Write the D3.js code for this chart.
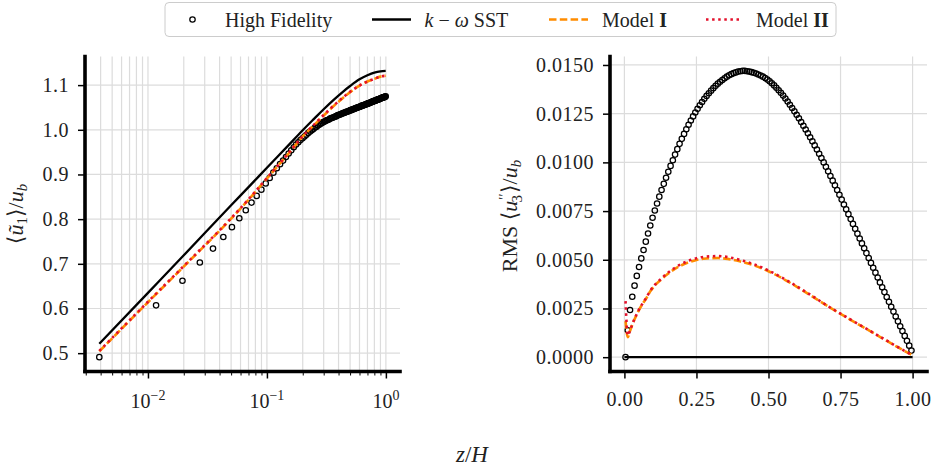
<!DOCTYPE html>
<html><head><meta charset="utf-8">
<script src="https://cdn.jsdelivr.net/npm/d3@7"></script>
<style>
html,body{margin:0;padding:0;background:#fff;}
svg{display:block;font-family:"Liberation Serif","DejaVu Serif",serif;}
svg text{font-family:"Liberation Serif","DejaVu Serif",serif;}
</style></head><body>
<svg id="chart" width="935" height="472"></svg>
<script>
// ---------------- DATA ----------------
// High-fidelity sample heights z/H (cell centres)
const hfZ = [0.0039,0.0117,0.0195,0.0273,0.0352,0.0430,0.0508,0.0586,0.0664,0.0742,0.0820,0.0898,0.0977,0.1055,0.1133,0.1211,0.1289,0.1367,0.1445,0.1523,0.1602,0.1680,0.1758,0.1836,0.1914,0.1992,0.2070,0.2148,0.2227,0.2305,0.2383,0.2461,0.2539,0.2617,0.2695,0.2773,0.2852,0.2930,0.3008,0.3086,0.3164,0.3242,0.3320,0.3398,0.3477,0.3555,0.3633,0.3711,0.3789,0.3867,0.3945,0.4023,0.4102,0.4180,0.4258,0.4336,0.4414,0.4492,0.4570,0.4648,0.4727,0.4805,0.4883,0.4961,0.5039,0.5117,0.5195,0.5273,0.5352,0.5430,0.5508,0.5586,0.5664,0.5742,0.5820,0.5898,0.5977,0.6055,0.6133,0.6211,0.6289,0.6367,0.6445,0.6523,0.6602,0.6680,0.6758,0.6836,0.6914,0.6992,0.7070,0.7148,0.7227,0.7305,0.7383,0.7461,0.7539,0.7617,0.7695,0.7773,0.7852,0.7930,0.8008,0.8086,0.8164,0.8242,0.8320,0.8398,0.8477,0.8555,0.8633,0.8711,0.8789,0.8867,0.8945,0.9023,0.9102,0.9180,0.9258,0.9336,0.9414,0.9492,0.9570,0.9648,0.9727,0.9805,0.9883,0.9961];

// Left panel: mean streamwise velocity <u1>/ub
const hfU1 = [0.491,0.607,0.662,0.703,0.734,0.760,0.782,0.802,0.820,0.837,0.852,0.866,
0.880,0.892,0.904,0.914,0.923,0.931,0.939,0.947,0.954,0.961,0.967,0.972,0.977,
0.981,0.985,0.989,0.993,0.996,0.999,1.002,1.005,1.007,1.010,1.012,1.014,1.016,
1.018,1.019,1.021,1.022,1.023,1.025,1.026,1.027,1.028,1.029,
1.030,1.031,1.033,1.033,1.034,1.035,1.036,1.037,1.038,1.038,
1.039,1.040,1.041,1.041,1.042,1.043,1.044,1.044,1.045,1.046,
1.046,1.047,1.048,1.048,1.049,1.050,1.050,1.051,1.051,1.052,
1.052,1.053,1.054,1.054,1.055,1.055,1.056,1.056,1.057,1.057,
1.058,1.058,1.059,1.059,1.060,1.060,1.061,1.061,1.062,1.062,
1.063,1.063,1.064,1.064,1.065,1.065,1.065,1.066,1.066,1.067,
1.067,1.068,1.068,1.068,1.069,1.069,1.070,1.070,1.071,1.071,
1.071,1.072,1.072,1.072,1.073,1.073,1.073,1.074,1.074,1.075];

const lineZL = [0.0039,0.01,0.02,0.05,0.072,0.1,0.15,0.2,0.25,0.3,0.36,0.43,0.5,0.6,0.7,0.8,0.9,0.9961];
const sstU1  = [0.521,0.635,0.719,0.831,0.875,0.915,0.964,0.999,1.025,1.046,1.066,1.084,1.098,1.113,1.122,1.128,1.131,1.132];
const m1U1   = [0.504,0.614,0.694,0.801,0.847,0.891,0.945,0.985,1.011,1.032,1.052,1.070,1.084,1.099,1.108,1.114,1.119,1.121];
const m2U1   = [0.505,0.615,0.695,0.802,0.848,0.892,0.946,0.986,1.012,1.033,1.053,1.071,1.085,1.099,1.108,1.114,1.119,1.121];

// Right panel: RMS <u3''>/ub
const hfW = [0.00000,0.00138,0.00242,0.00310,0.00367,0.00417,0.00463,0.00507,0.00550,0.00593,
0.00635,0.00676,0.00716,0.00753,0.00789,0.00824,0.00858,0.00890,0.00921,0.00952,
0.00982,0.01011,0.01040,0.01068,0.01095,0.01121,0.01146,0.01170,0.01193,0.01215,
0.01236,0.01256,0.01275,0.01293,0.01310,0.01326,0.01341,0.01355,0.01368,0.01381,
0.01393,0.01404,0.01414,0.01423,0.01432,0.01440,0.01447,0.01453,0.01458,0.01462,
0.01466,0.01468,
0.01470,0.01470,0.01468,0.01466,0.01463,0.01460,0.01456,0.01451,0.01446,0.01440,
0.01433,0.01425,0.01416,0.01406,0.01395,0.01383,0.01370,0.01357,0.01343,0.01328,
0.01312,0.01296,0.01279,0.01262,0.01244,0.01226,0.01207,0.01188,0.01169,0.01149,
0.01129,0.01108,0.01087,0.01066,0.01044,0.01022,0.01000,0.00977,0.00954,0.00930,
0.00906,0.00882,0.00858,0.00834,0.00809,0.00784,0.00759,0.00734,0.00709,0.00684,
0.00659,0.00634,0.00609,0.00584,0.00559,0.00534,0.00509,0.00484,0.00459,0.00434,
0.00409,0.00384,0.00359,0.00334,0.00309,0.00284,0.00259,0.00234,0.00209,0.00184,
0.00159,0.00134,0.00109,0.00084,0.00059,0.00034];

const sstZR = [0.0, 0.25, 0.5, 0.75, 1.0];
const sstW  = [0, 0, 0, 0, 0];
const lineZR = [0.0039,0.0117,0.0195,0.0273,0.0352,0.0430,0.0508,0.0625,0.075,0.0898,0.1055,0.125,0.15,0.175,0.2,0.225,0.25,0.275,0.3,0.325,0.35,0.375,0.4,0.45,0.5,0.55,0.6,0.65,0.7,0.75,0.8,0.85,0.9,0.95,0.9961];
const m1W = [0.00185,0.00103,0.00135,0.00166,0.00195,0.00220,0.00243,0.00272,0.00300,0.00338,0.00368,0.00395,0.00427,0.00453,0.00473,0.00488,0.00499,0.00505,0.00508,0.00509,0.00506,0.00500,0.00492,0.00471,0.00441,0.00403,0.00360,0.00314,0.00267,0.00222,0.00179,0.00136,0.00093,0.00050,0.00012];
const m2W = [0.00288,0.00112,0.00138,0.00168,0.00197,0.00222,0.00245,0.00274,0.00303,0.00341,0.00371,0.00399,0.00432,0.00459,0.00480,0.00496,0.00508,0.00515,0.00518,0.00519,0.00516,0.00509,0.00500,0.00477,0.00445,0.00406,0.00362,0.00316,0.00268,0.00223,0.00180,0.00137,0.00094,0.00051,0.00013];

const yTicksL = [0.5,0.6,0.7,0.8,0.9,1.0,1.1];
const xMajorL = [0.01,0.1,1];
const xMajorLabels = ["\u22122","\u22121","0"];
const yTicksR = [0,0.0025,0.005,0.0075,0.01,0.0125,0.015];
const xTicksR = [0,0.25,0.5,0.75,1.0];

const cOrange = "#ff8c00", cRed = "#e3102b";
const FONT = "Liberation Serif, DejaVu Serif, serif";

// ---------------- LAYOUT ----------------
const svg = d3.select("#chart");
const L = {x:85, y:56.5, w:315, h:315};
const R = {x:610, y:56.5, w:317, h:315};
function pad(ext,f){const r=ext[1]-ext[0];return [ext[0]-f*r, ext[1]+f*r];}

// scales
const lzExt = pad(d3.extent(hfZ.concat(lineZL)).map(Math.log10),0.05);
const xL = d3.scaleLog().domain([10**lzExt[0],10**lzExt[1]]).range([L.x,L.x+L.w]);
const yL = d3.scaleLinear().domain(pad(d3.extent(hfU1.concat(sstU1,m1U1,m2U1)),0.05)).range([L.y+L.h,L.y]);
const xR = d3.scaleLinear().domain(pad(d3.extent(hfZ.concat(sstZR,lineZR)),0.05)).range([R.x,R.x+R.w]);
const yR = d3.scaleLinear().domain(pad(d3.extent(hfW.concat(sstW,m1W,m2W)),0.05)).range([R.y+R.h,R.y]);

const gridC = "#dcdcdc";
// ---- grids ----
const minorL = xL.ticks().filter(d=>d>=xL.domain()[0]&&d<=xL.domain()[1]);
const gL = svg.append("g");
gL.selectAll("line.v").data(minorL).join("line")
  .attr("x1",d=>xL(d)).attr("x2",d=>xL(d)).attr("y1",L.y).attr("y2",L.y+L.h)
  .attr("stroke",gridC).attr("stroke-width",1.2);
gL.selectAll("line.h").data(yTicksL).join("line")
  .attr("x1",L.x).attr("x2",L.x+L.w).attr("y1",d=>yL(d)).attr("y2",d=>yL(d))
  .attr("stroke",gridC).attr("stroke-width",1.2);
const gR = svg.append("g");
gR.selectAll("line.v").data(xTicksR).join("line")
  .attr("x1",d=>xR(d)).attr("x2",d=>xR(d)).attr("y1",R.y).attr("y2",R.y+R.h)
  .attr("stroke",gridC).attr("stroke-width",1.2);
gR.selectAll("line.h").data(yTicksR).join("line")
  .attr("x1",R.x).attr("x2",R.x+R.w).attr("y1",d=>yR(d)).attr("y2",d=>yR(d))
  .attr("stroke",gridC).attr("stroke-width",1.2);

// ---- data marks ----
function drawPanel(x, y, hfY, sstZ, sstY, lz, m1, m2){
  const g = svg.append("g");
  g.selectAll("circle").data(hfZ.map((z,i)=>[z,hfY[i]])).join("circle")
    .attr("cx",d=>x(d[0])).attr("cy",d=>y(d[1])).attr("r",2.7)
    .attr("fill","none").attr("stroke","#000").attr("stroke-width",1.25);
  const line = d3.line().x(d=>x(d[0])).y(d=>y(d[1])).curve(d3.curveMonotoneX);
  g.append("path").attr("d",line(sstZ.map((z,i)=>[z,sstY[i]])))
    .attr("fill","none").attr("stroke","#000").attr("stroke-width",2.3);
  g.append("path").attr("d",line(lz.map((z,i)=>[z,m1[i]])))
    .attr("fill","none").attr("stroke",cOrange).attr("stroke-width",2.6).attr("stroke-dasharray","7.5,3.3");
  g.append("path").attr("d",line(lz.map((z,i)=>[z,m2[i]])))
    .attr("fill","none").attr("stroke",cRed).attr("stroke-width",2.6).attr("stroke-dasharray","2.5,3.6");
}
drawPanel(xL,yL,hfU1,lineZL,sstU1,lineZL,m1U1,m2U1);
drawPanel(xR,yR,hfW,sstZR,sstW,lineZR,m1W,m2W);

// ---- axes ----
const tickFont = 20;
function styleAxis(g){
  g.attr("font-family",FONT);
  g.select(".domain").remove();
  g.selectAll(".tick line").attr("stroke","#000").attr("stroke-width",1.5);
  g.selectAll(".tick text").attr("font-family",FONT).attr("font-size",tickFont)
    .attr("fill","#222").attr("letter-spacing","0.5px");
}
// left y
svg.append("g").attr("transform",`translate(${L.x},0)`)
  .call(d3.axisLeft(yL).tickValues(yTicksL).tickSize(7).tickPadding(9).tickFormat(d3.format(".1f")))
  .call(styleAxis);
// left x major / minor
const minorOnly = minorL.filter(d=>Math.abs(Math.log10(d)-Math.round(Math.log10(d)))>1e-6);
svg.append("g").attr("transform",`translate(0,${L.y+L.h})`)
  .call(d3.axisBottom(xL).tickValues(minorOnly).tickSize(4).tickFormat(""))
  .call(styleAxis).selectAll(".tick line").attr("stroke-width",1);
svg.append("g").attr("transform",`translate(0,${L.y+L.h})`)
  .call(d3.axisBottom(xL).tickValues(xMajorL).tickSize(7).tickFormat(""))
  .call(styleAxis);
const lab = svg.append("g").selectAll("text").data(xMajorL).join("text")
  .attr("x",d=>xL(d)).attr("y",408).attr("text-anchor","middle")
  .attr("font-family",FONT).attr("font-size",tickFont).attr("fill","#222");
lab.append("tspan").text("10");
lab.append("tspan").attr("dy",-8).attr("font-size",14).text((d,i)=>xMajorLabels[i]);

// right y
svg.append("g").attr("transform",`translate(${R.x},0)`)
  .call(d3.axisLeft(yR).tickValues(yTicksR).tickSize(7).tickPadding(9).tickFormat(d3.format(".4f")))
  .call(styleAxis);
// right x
const axR = svg.append("g").attr("transform",`translate(0,${R.y+R.h})`)
  .call(d3.axisBottom(xR).tickValues(xTicksR).tickSize(7).tickPadding(8).tickFormat(d3.format(".2f")))
  .call(styleAxis);
axR.selectAll(".tick text").attr("dy","0.95em");

// spines
function spines(P){
  const g = svg.append("g").attr("stroke","#000").attr("stroke-width",3.6).attr("stroke-linecap","square");
  g.append("line").attr("x1",P.x).attr("x2",P.x).attr("y1",P.y).attr("y2",P.y+P.h);
  g.append("line").attr("x1",P.x).attr("x2",P.x+P.w).attr("y1",P.y+P.h).attr("y2",P.y+P.h);
}
spines(L); spines(R);

// ---- axis labels ----
const yl = svg.append("text").attr("transform","translate(23,214) rotate(-90)")
  .attr("text-anchor","middle").attr("font-family",FONT).attr("font-size",22).attr("fill","#222");
yl.append("tspan").text("\u27E8");
yl.append("tspan").attr("font-style","italic").text("\u0169");
yl.append("tspan").attr("font-size",15).attr("dy",4).text("1");
yl.append("tspan").attr("dy",-4).text("\u27E9/");
yl.append("tspan").attr("font-style","italic").text("u");
yl.append("tspan").attr("font-size",15).attr("font-style","italic").attr("dy",4).text("b");

const yr = svg.append("text").attr("transform","translate(517,216) rotate(-90)")
  .attr("text-anchor","middle").attr("font-family",FONT).attr("font-size",22).attr("fill","#222");
yr.append("tspan").text("RMS \u27E8");
yr.append("tspan").attr("font-style","italic").text("u");
yr.append("tspan").attr("font-size",14).attr("dx",1).attr("dy",-8).text("\u2032\u2032");
yr.append("tspan").attr("font-size",15).attr("dx",-9).attr("dy",13).text("3");
yr.append("tspan").attr("dx",2).attr("dy",-5).text("\u27E9/");
yr.append("tspan").attr("font-style","italic").text("u");
yr.append("tspan").attr("font-size",15).attr("font-style","italic").attr("dy",4).text("b");

const xl = svg.append("text").attr("x",472).attr("y",462).attr("text-anchor","middle")
  .attr("font-family",FONT).attr("font-size",23).attr("fill","#222");
xl.append("tspan").attr("font-style","italic").text("z");
xl.append("tspan").text("/");
xl.append("tspan").attr("font-style","italic").text("H");

// ---- legend ----
const lg = svg.append("g").attr("font-family",FONT);
lg.append("rect").attr("x",165).attr("y",2.5).attr("width",671).attr("height",34).attr("rx",4)
  .attr("fill","#fff").attr("stroke","#cccccc").attr("stroke-width",1);
const ly = 19.5, ty = 26.5, lf = 20;
lg.append("circle").attr("cx",192.5).attr("cy",ly).attr("r",2.7).attr("fill","none").attr("stroke","#000").attr("stroke-width",1.25);
lg.append("text").attr("x",225).attr("y",ty).attr("font-size",lf).attr("fill","#222").text("High Fidelity");
lg.append("line").attr("x1",372).attr("x2",411).attr("y1",ly).attr("y2",ly).attr("stroke","#000").attr("stroke-width",2.3);
const t2 = lg.append("text").attr("x",424.5).attr("y",ty).attr("font-size",lf).attr("fill","#222");
t2.append("tspan").attr("font-style","italic").text("k");
t2.append("tspan").text(" \u2212 ");
t2.append("tspan").attr("font-style","italic").text("\u03C9");
t2.append("tspan").text(" SST");
lg.append("line").attr("x1",549).attr("x2",588).attr("y1",ly).attr("y2",ly).attr("stroke",cOrange).attr("stroke-width",2.6).attr("stroke-dasharray","7.5,3.3");
const t3 = lg.append("text").attr("x",602).attr("y",ty).attr("font-size",lf).attr("fill","#222");
t3.append("tspan").text("Model ");
t3.append("tspan").attr("font-weight","bold").text("I");
lg.append("line").attr("x1",706).attr("x2",742).attr("y1",ly).attr("y2",ly).attr("stroke",cRed).attr("stroke-width",2.6).attr("stroke-dasharray","2.5,3.6");
const t4 = lg.append("text").attr("x",756).attr("y",ty).attr("font-size",lf).attr("fill","#222");
t4.append("tspan").text("Model ");
t4.append("tspan").attr("font-weight","bold").text("II");
</script>
</body></html>
